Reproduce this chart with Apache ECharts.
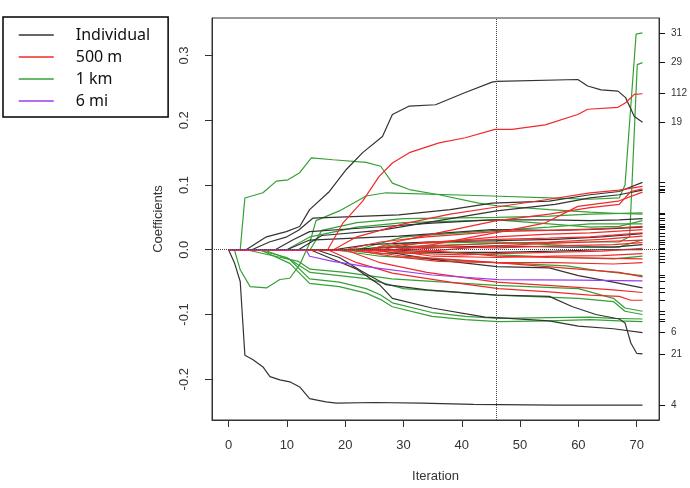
<!DOCTYPE html>
<html>
<head>
<meta charset="utf-8">
<title>Coefficient paths</title>
<script src="https://cdn.jsdelivr.net/npm/echarts@6/dist/echarts.min.js"></script>
<style>
    html, body { margin: 0; padding: 0; background: #fff; }
    #main { width: 690px; height: 488px; }
</style>
</head>
<body>
<div id="main"></div>
<script>
// axis ticks
var xTicks = [0, 10, 20, 30, 40, 50, 60, 70];
var yTicks = [-0.2, -0.1, 0.0, 0.1, 0.2, 0.3];
var xMin = -2.84, xMax = 73.84;
var yMin = -0.263, yMax = 0.358;
var chosenIter = 46;

// labelled paths ([iteration, coefficient])
var ind19 = [[0,0],[3,0],[6.5,0.02],[9.9,0.028],[12.2,0.036],[13.9,0.062],[17.3,0.09],[20.2,0.124],[23,0.15],[26.4,0.175],[28.1,0.209],[31,0.222],[35.5,0.224],[40.6,0.243],[45.2,0.259],[46,0.26],[59.9,0.263],[61.6,0.253],[63.9,0.247],[66.8,0.245],[68.1,0.235],[69.6,0.206],[71,0.197]];
var ind4 = [[0,0],[1,-0.02],[2,-0.049],[2.8,-0.163],[4.2,-0.17],[5.9,-0.181],[7.1,-0.196],[8.8,-0.201],[10.5,-0.204],[12.2,-0.212],[13.9,-0.23],[16.7,-0.235],[18.5,-0.237],[25,-0.236],[33,-0.237],[42,-0.239],[56,-0.24],[71,-0.24]];
var ind6 = [[0,0],[14,0],[18,-0.015],[22,-0.03],[26,-0.055],[28.1,-0.075],[34.9,-0.09],[44,-0.104],[46,-0.105],[55,-0.11],[60,-0.118],[66,-0.122],[71,-0.128]];
var ind21 = [[0,0],[15,0],[19,-0.012],[22.4,-0.031],[27,-0.054],[34,-0.062],[46,-0.07],[55,-0.072],[59,-0.088],[63,-0.1],[67,-0.107],[68,-0.113],[69,-0.144],[70,-0.16],[71,-0.161]];
var m500_112 = [[0,0],[17,0],[19.6,0.041],[23,0.075],[25.8,0.113],[28.1,0.134],[31,0.15],[36.1,0.165],[40.6,0.173],[45.7,0.186],[48.6,0.186],[54.3,0.193],[59.9,0.209],[61.6,0.217],[66.8,0.22],[68.1,0.227],[69.6,0.24],[71,0.241]];
var km31 = [[0,0],[1,0],[2,-0.031],[3.7,-0.057],[6.5,-0.059],[8.8,-0.046],[10.5,-0.044],[12.2,-0.023],[13.9,0.01],[15,0.045],[19,0.06],[23.6,0.083],[27,0.088],[45.2,0.083],[55,0.08],[62,0.078],[67,0.08],[68,0.1],[69.9,0.333],[71,0.335]];
var km29 = [[0,0],[20,0],[30,0.005],[46,0.01],[60,0.012],[67,0.012],[68.8,0.02],[70.1,0.286],[71,0.289]];

// the rest of the paths, one list per distance group
var individual = [
    [[0,0],[4,0],[7,0.012],[10,0.02],[12,0.03],[14.5,0.049],[29.2,0.054],[38,0.062],[45.2,0.072],[55,0.075],[62,0.085],[67,0.09],[71,0.104]],
    [[0,0],[8,0],[11,0.015],[13.9,0.028],[23.6,0.034],[34.9,0.041],[45.2,0.046],[55,0.046],[62,0.045],[67,0.046],[71,0.048]],
    [[0,0],[10,0],[13.9,0.015],[29.2,0.021],[45.2,0.031],[56,0.03],[64,0.032],[71,0.035]],
    [[0,0],[18,0],[24,0.008],[34,0.012],[46,0.014],[56,0.016],[64,0.02],[71,0.025]],
    [[0,0],[20,0],[28,0.004],[38,0.004],[46,0.006],[58,0.004],[66,0.004],[71,0.008]],
    [[0,0],[25,0],[35,-0.015],[46,-0.026],[55,-0.028],[60,-0.04],[66,-0.05],[71,-0.059]],
    [[0,0],[28,0],[36,-0.004],[46,-0.004],[56,-0.002],[64,0],[71,0]],
    [[0,0],[12,0],[16,0.022],[26,0.03],[36,0.045],[46,0.06],[56,0.07],[62,0.08],[67,0.085],[71,0.092]]
];
var m500 = [
    [[0,0],[18,0],[22,0.02],[30,0.04],[38,0.055],[46,0.066],[55,0.078],[62,0.088],[67,0.092],[71,0.098]],
    [[0,0],[28,0],[35,0.008],[42,0.02],[48,0.03],[54.2,0.041],[59.9,0.067],[66.8,0.075],[71,0.089]],
    [[0,0],[24,0],[30,0.015],[38,0.03],[46,0.045],[55,0.055],[62,0.065],[67,0.07],[69,0.09],[71,0.094]],
    [[0,0],[17,0],[22,-0.02],[28.1,-0.036],[38,-0.05],[46.3,-0.06],[55,-0.065],[62,-0.07],[67,-0.072],[69,-0.078],[71,-0.078]],
    [[0,0],[20,0],[26,-0.02],[34,-0.035],[46,-0.05],[58,-0.057],[66,-0.062],[71,-0.066]],
    [[0,0],[22,0],[30,-0.01],[46,-0.02],[60,-0.03],[67,-0.035],[71,-0.042]],
    [[0,0],[20,0],[26,0.012],[34,0.02],[46,0.028],[55,0.03],[62,0.032],[67,0.034],[71,0.036]],
    [[0,0],[24,0],[30,0.008],[40,0.015],[46,0.02],[55,0.024],[62,0.026],[71,0.031]],
    [[0,0],[26,0],[34,0.012],[46,0.016],[55,0.018],[62,0.02],[71,0.026]],
    [[0,0],[28,0],[36,0.006],[46,0.01],[55,0.012],[64,0.016],[71,0.021]],
    [[0,0],[25,0],[32,-0.004],[40,0.002],[46,0.006],[55,0.01],[62,0.012],[71,0.015]],
    [[0,0],[30,0],[38,0.004],[46,0.003],[56,0.006],[66,0.008],[71,0.011]],
    [[0,0],[22,0],[30,-0.005],[40,-0.008],[46,-0.006],[55,-0.004],[64,-0.002],[71,0.002]],
    [[0,0],[27,0],[35,-0.01],[46,-0.012],[56,-0.01],[64,-0.009],[71,-0.006]],
    [[0,0],[32,0],[40,-0.005],[46,-0.01],[55,-0.012],[63,-0.013],[71,-0.014]],
    [[0,0],[21,0],[28,-0.01],[36,-0.018],[46,-0.02],[56,-0.02],[66,-0.022],[71,-0.02]]
];
var km1 = [
    [[0,0],[2,0],[2.8,0.08],[5.9,0.088],[8.2,0.106],[10.2,0.108],[12.2,0.119],[14.2,0.142],[17.9,0.139],[23.6,0.135],[26.1,0.129],[28.1,0.103],[31,0.093],[36.1,0.085],[42.9,0.072],[46,0.068],[55,0.062],[62,0.058],[67,0.056],[71,0.055]],
    [[0,0],[5.4,0],[10.5,-0.021],[13.9,-0.052],[19,-0.057],[23.6,-0.067],[26.1,-0.077],[28.1,-0.088],[34.9,-0.103],[40.6,-0.108],[46.3,-0.111],[55,-0.11],[62,-0.108],[67,-0.11],[71,-0.111]],
    [[0,0],[6,0],[10.5,-0.015],[13.9,-0.045],[19,-0.05],[23.6,-0.06],[26.1,-0.07],[28.1,-0.082],[34.9,-0.097],[40.6,-0.103],[46.3,-0.106],[55,-0.105],[62,-0.104],[66,-0.106],[71,-0.107]],
    [[0,0],[3,0],[8,-0.01],[12,-0.018],[14,-0.03],[20,-0.035],[28,-0.045],[46,-0.055],[60,-0.06],[66,-0.075],[68,-0.09],[71,-0.095]],
    [[0,0],[5,0],[10,-0.012],[14,-0.035],[24,-0.045],[30,-0.06],[46,-0.07],[60,-0.075],[66,-0.08],[68,-0.095],[71,-0.1]],
    [[0,0],[14,0],[16,0.03],[22,0.042],[30,0.048],[46,0.05],[55,0.052],[62,0.055],[71,0.057]],
    [[0,0],[10,0],[14,0.02],[22,0.035],[30,0.042],[46,0.046],[55,0.04],[62,0.035],[67,0.036],[71,0.045]],
    [[0,0],[22,0],[30,0.02],[46,0.03],[55,0.035],[62,0.04],[71,0.04]],
    [[0,0],[18,0],[26,-0.01],[36,-0.015],[46,-0.02],[58,-0.025],[63,-0.032],[71,-0.04]],
    [[0,0],[23,0],[30,0.01],[46,0.012],[55,0.008],[62,0.005],[67,0.004],[69,0.01],[71,0.015]],
    [[0,0],[19,0],[26,-0.006],[36,-0.004],[46,-0.008],[58,-0.012],[66,-0.014],[71,-0.01]]
];
var mi6 = [[0,0],[13.3,0],[13.9,-0.01],[17.9,-0.018],[23.6,-0.026],[34.9,-0.039],[46.3,-0.046],[60,-0.047],[71,-0.048]];

// labels printed on the right axis (others overlap and are left blank)
var endLabels = [['31', km31], ['29', km29], ['112', m500_112], ['19', ind19], ['6', ind6], ['21', ind21], ['4', ind4]];

var colors = {'Individual': '#333333', '500 m': '#f02a2a', '1 km': '#35a035', '6 mi': '#9a3cf0'};
var axisFont = 'Liberation Sans, Arial, sans-serif';

var paths = [];
function addPaths(name, list) {
    for (var i = 0; i < list.length; i++) paths.push({name: name, pts: list[i]});
}
addPaths('1 km', km1);
addPaths('1 km', [km31, km29]);
addPaths('Individual', individual);
addPaths('Individual', [ind19, ind4, ind6, ind21]);
addPaths('500 m', m500);
addPaths('500 m', [m500_112]);
addPaths('6 mi', [mi6]);

function lastVal(p) { return p[p.length - 1][1]; }

var endVals = paths.map(function (p) { return lastVal(p.pts); });
var labelVals = endLabels.map(function (l) { return lastVal(l[1]); });

var series = paths.map(function (p, i) {
    var s = {
        name: p.name,
        type: 'line',
        data: p.pts,
        symbol: 'none',
        silent: true,
        lineStyle: {color: colors[p.name], width: 1.2},
        itemStyle: {color: colors[p.name]},
        emphasis: {disabled: true}
    };
    if (i === 0) {
        // reference lines: zero and the chosen iteration
        s.markLine = {
            silent: true,
            symbol: ['none', 'none'],
            label: {show: false},
            lineStyle: {type: 'dotted', color: '#444', width: 1},
            data: [{yAxis: 0}, {xAxis: chosenIter}]
        };
    }
    return s;
});

var myChart = echarts.init(document.getElementById('main'));

var option = {
    animation: false,
    backgroundColor: '#fff',
    grid: {
        left: 212, right: 28, top: 18, bottom: 68,
        show: true, borderColor: '#333', borderWidth: 1
    },
    legend: {
        data: ['Individual', '500 m', '1 km', '6 mi'],
        orient: 'vertical',
        left: 3, top: 17,
        padding: [10, 18, 8, 15],
        itemWidth: 35, itemHeight: 16, itemGap: 6,
        borderColor: '#000', borderWidth: 1.5,
        selectedMode: false,
        itemStyle: {opacity: 0},
        lineStyle: {width: 1.5},
        textStyle: {fontFamily: 'Noto Sans', fontSize: 16, color: '#111', padding: [0, 0, 0, 17]}
    },
    xAxis: {
        type: 'value', min: xMin, max: xMax,
        axisLine: {show: true, onZero: false, lineStyle: {color: '#333'}},
        axisTick: {show: true, length: 7, customValues: xTicks, lineStyle: {color: '#333'}},
        axisLabel: {customValues: xTicks, margin: 19, fontSize: 13, color: '#333', fontFamily: axisFont},
        splitLine: {show: false},
        name: 'Iteration', nameLocation: 'middle', nameGap: 50,
        nameTextStyle: {fontSize: 13, color: '#333', fontFamily: axisFont}
    },
    yAxis: [{
        type: 'value', min: yMin, max: yMax, position: 'left',
        axisLine: {show: true, onZero: false, lineStyle: {color: '#333'}},
        axisTick: {show: true, length: 7, customValues: yTicks, lineStyle: {color: '#333'}},
        axisLabel: {
            customValues: yTicks, rotate: 90, margin: 21, fontSize: 13, color: '#333', fontFamily: axisFont,
            formatter: function (v) { return v.toFixed(1); }
        },
        splitLine: {show: false},
        name: 'Coefficients', nameLocation: 'middle', nameGap: 47,
        nameTextStyle: {fontSize: 13, color: '#333', fontFamily: axisFont}
    }, {
        type: 'value', min: yMin, max: yMax, position: 'right',
        axisLine: {show: true, onZero: false, lineStyle: {color: '#333'}},
        axisTick: {show: true, length: 6, customValues: endVals, lineStyle: {color: '#111'}},
        axisLabel: {
            customValues: labelVals, margin: 12, fontSize: 10, color: '#333', fontFamily: axisFont,
            formatter: function (v) {
                for (var i = 0; i < endLabels.length; i++) {
                    if (Math.abs(labelVals[i] - v) < 1e-9) return endLabels[i][0];
                }
                return '';
            }
        },
        splitLine: {show: false}
    }],
    series: series
};
myChart.setOption(option);
</script>
</body>
</html>
